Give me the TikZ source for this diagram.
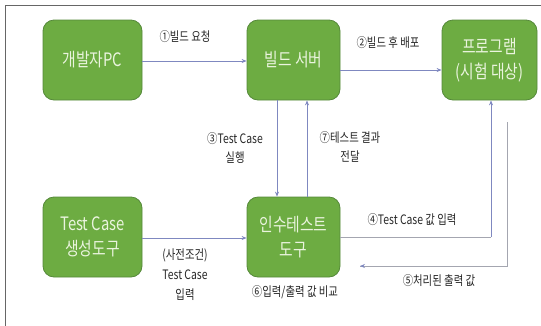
\documentclass[tikz,border=0pt]{standalone}
\usepackage{fontspec}
\setmainfont{Noto Sans CJK KR}
\newfontfamily\kr[FakeStretch=0.8]{Noto Sans CJK KR}
\usetikzlibrary{arrows.meta}
\definecolor{boxfill}{HTML}{6DAC42}
\definecolor{boxline}{HTML}{55893A}
\definecolor{boxtext}{HTML}{EAF4DE}
\definecolor{arrblue}{HTML}{7F88C0}
\definecolor{arrgray}{HTML}{A4A6B0}
\definecolor{lbl}{HTML}{262626}
\tikzset{
  box/.style={draw=boxline, line width=0.8pt, fill=boxfill, rounded corners=11pt,
    inner sep=0pt, minimum height=80pt, text=boxtext, font=\kr\fontsize{18.5}{25}\selectfont, align=center},
  lab/.style={text=lbl, font=\kr\fontsize{13}{19}\selectfont, align=center, inner sep=0pt},
  conn/.style={draw=arrblue, line width=0.8pt, -{Stealth[length=5pt,width=4pt]}},
  conng/.style={draw=arrgray, line width=0.8pt},
}
\begin{document}
\begin{tikzpicture}[x=1pt,y=-1pt]
\useasboundingbox (0,0) rectangle (541,325);
\clip (0,0) rectangle (541,325);
\draw[draw=gray!80!black, line width=1.3pt] (5.5,5.5) rectangle (570,360);

\node[box, minimum width=99pt] (dev) at (92.5,60) {개발자PC};
\node[box, minimum width=93pt] (srv) at (293.5,60) {빌드 서버};
\node[box, minimum width=95pt] (prg) at (489.5,60) {프로그램\\(시험 대상)};
\node[box, minimum width=99pt] (gen) at (92.5,237) {Test Case\\생성도구};
\node[box, minimum width=93pt] (acc) at (293.5,237) {인수테스트\\도구};

\coordinate (p4) at (491,237);
\coordinate (p5a) at (507,122);
\coordinate (p5b) at (507,266);
\coordinate (p5c) at (360,266);

\draw[conn] (dev.east |- 0,61) -- (srv.west |- 0,61);
\draw[conn] (srv.east |- 0,70) -- (prg.west |- 0,70);
\draw[conn] (srv.south -| 277,0) -- (acc.north -| 277,0);
\draw[conn] (acc.north -| 307,0) -- (srv.south -| 307,0);
\draw[conn] (gen.east |- 0,238) -- (acc.west |- 0,238);
\draw[conng] (acc.east |- p4) -- (p4);
\draw[conn] (p4) -- (prg.south -| p4);
\draw[conng] (p5a) -- (p5b) -- (p5c);
\draw[conn] ([xshift=2pt]p5c) -- (p5c);

\node[lab] (l1) at (185,37) {①빌드 요청};
\node[lab] (l2) at (388,43) {②빌드 후 배포};
\node[lab] (l3) at (235,148) {③Test Case\\실행};
\node[lab] (l7) at (350,147) {⑦테스트 결과\\전달};
\node[lab] (l4) at (412,220) {④Test Case 값 입력};
\node[lab] (l5) at (439,281) {⑤처리된 출력 값};
\node[lab] (l6) at (295,292) {⑥입력/출력 값 비교};
\node[lab, font=\kr\fontsize{13}{20}\selectfont] (l0) at (185,275) {(사전조건)\\Test Case\\입력};
\end{tikzpicture}
\end{document}
